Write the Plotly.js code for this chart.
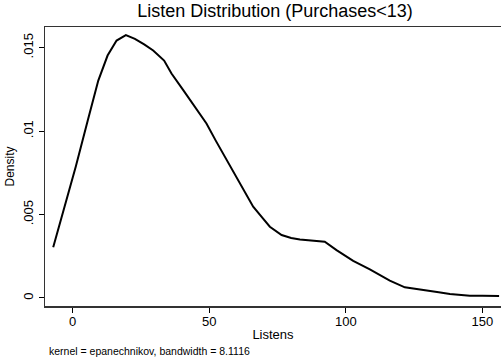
<!DOCTYPE html>
<html>
<head>
<meta charset="utf-8">
<script src="https://cdn.plot.ly/plotly-3.0.1.min.js"></script>
<style>html,body{margin:0;padding:0;background:#fff}#chart{width:501px;height:357px}</style>
</head>
<body>
<div id="chart"></div>
<script>
const listens = [-7.1, -3.5, 1.2, 5.5, 9.4, 12.8, 16.1, 19.5, 22.8, 26.2, 29.5, 33.5, 36.2, 40.5, 44.5, 49.0, 52.5, 56.4, 62.4, 66.1, 69.5, 72.2, 76.5, 80, 83.2, 88, 92.3, 96.6, 102.7, 108.8, 112.5, 116.1, 121.6, 126, 130.8, 134, 138.1, 145.4, 150, 156.1];
const density = [0.00304, 0.0051, 0.00789, 0.0106, 0.01303, 0.01453, 0.01543, 0.01575, 0.01553, 0.0152, 0.01483, 0.01423, 0.01345, 0.01246, 0.0115, 0.01046, 0.0094, 0.00826, 0.00647, 0.00547, 0.0048, 0.00427, 0.00377, 0.0036, 0.00351, 0.00345, 0.00337, 0.00287, 0.00222, 0.00172, 0.00138, 0.00104, 0.00064, 0.00055, 0.00044, 0.00035, 0.00024, 0.00014, 0.00013, 0.00012];
const xTickVals = [0, 50, 100, 150];
const yTickVals = [0, 0.005, 0.01, 0.015];
const yTickText = ["0", ".005", ".01", ".015"];
const titleText = "Listen Distribution (Purchases<13)";
const xTitle = "Listens";
const yTitle = "Density";
const noteText = "kernel = epanechnikov, bandwidth = 8.1116";

const font = "Liberation Sans, Arial, Helvetica, sans-serif";
Plotly.newPlot("chart", [{
  x: listens, y: density, type: "scatter", mode: "lines",
  line: {color: "#000", width: 2}, hoverinfo: "skip"
}], {
  width: 501, height: 357,
  margin: {l: 45, r: 0, t: 27, b: 51, pad: 0},
  paper_bgcolor: "#fff", plot_bgcolor: "#fff",
  showlegend: false,
  font: {family: font, color: "#000"},
  title: {text: titleText, font: {size: 18, family: font, color: "#000"},
          x: 0.549, xref: "container", xanchor: "center", y: 1 - 11/357, yref: "container", yanchor: "middle"},
  xaxis: {range: [-10.1, 156.8], tickvals: xTickVals, ticks: "outside", ticklen: 5, tickwidth: 1, tickcolor: "#000",
          showline: true, linecolor: "#333", linewidth: 1.5, mirror: true, showgrid: false, zeroline: false,
          ticklabelstandoff: -2,
          tickfont: {size: 13, family: font}, title: {text: xTitle, font: {size: 13, family: font}, standoff: 2}},
  yaxis: {range: [-0.00048, 0.01624], tickvals: yTickVals, ticktext: yTickText, ticks: "outside", ticklen: 5, tickwidth: 1, tickcolor: "#000",
          tickangle: -90, showline: true, linecolor: "#333", linewidth: 1.5, showgrid: false, zeroline: false,
          tickfont: {size: 13, family: font}, title: {text: yTitle, font: {size: 12, family: font}, standoff: 4}},
  annotations: [{text: noteText, xref: "paper", yref: "paper", x: 0.004, y: -45/279, xanchor: "left", yanchor: "middle",
                 showarrow: false, font: {size: 10.5, family: font, color: "#000"}}]
}, {staticPlot: true});
</script>
</body>
</html>
